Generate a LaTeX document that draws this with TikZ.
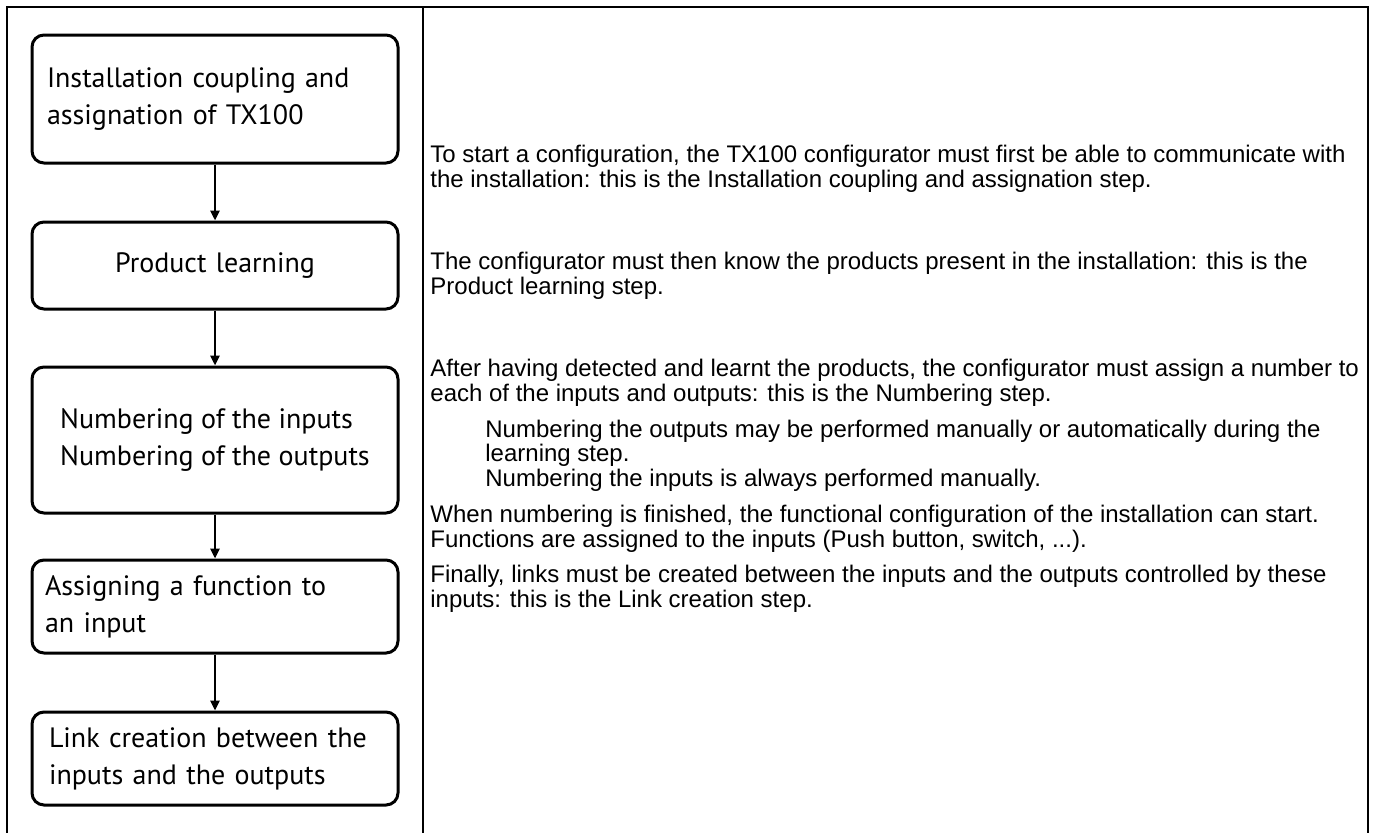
\documentclass[tikz,border=0pt]{standalone}
\usepackage{fontspec}
\setmainfont{Liberation Sans}
\newfontfamily\boxfont{PT Sans}
\usetikzlibrary{arrows.meta}

\begin{document}
\begin{tikzpicture}[x=0.5pt,y=-0.5pt,
  stepbox/.style={draw,line width=1.5pt,rounded corners=6pt,inner ysep=0pt,
    align=left,font=\boxfont\fontsize{14}{18.5}\selectfont},
  flow/.style={line width=1.4pt,-{Triangle[length=5pt,width=4.5pt]}},
  note/.style={anchor=base west,inner sep=0pt,align=left,
    font=\fontsize{12}{10}\selectfont},
  rule/.style={line width=0.8pt}]
  \useasboundingbox (0,0) rectangle (1374,832);
  % table
  \draw[rule] (7,850) -- (7,7) -- (1368,7) -- (1368,850);
  \draw[rule] (423,7) -- (423,850);
  % steps
  \node[stepbox,inner xsep=7.5pt,text width=168pt,minimum height=64pt] (b1) at (215,99)
    {Installation coupling and\\assignation of TX100};
  \node[stepbox,inner xsep=7.5pt,text width=168pt,minimum height=43.5pt,align=center] (b2) at (215,265.5)
    {Product learning};
  \node[stepbox,minimum width=183pt,minimum height=73pt] (b3) at (215,440)
    {Numbering of the inputs\\Numbering of the outputs};
  \node[stepbox,inner xsep=6.5pt,text width=170pt,minimum height=46.5pt] (b4) at (215,606.5)
    {Assigning a function to\\an input};
  \node[stepbox,inner xsep=8.5pt,text width=166pt,minimum height=46.5pt] (b5) at (215,758.5)
    {Link creation between the\\inputs and the outputs};
  \draw[flow] (b1) -- (b2);
  \draw[flow] (b2) -- (b3);
  \draw[flow] (b3) -- (b4);
  \draw[flow] (b4) -- (b5);
  % notes (anchored at the last line)
  \node[note] (n1) at (430,187) {To start a configuration, the TX100 configurator must first be able to communicate with\\the installation: this is the Installation coupling and assignation step.};
  \node[note] (n2) at (430,294) {The configurator must then know the products present in the installation: this is the\\Product learning step.};
  \node[note] (n3) at (430,401) {After having detected and learnt the products, the configurator must assign a number to\\each of the inputs and outputs: this is the Numbering step.};
  \node[note] (n4) at (485,486) {Numbering the outputs may be performed manually or automatically during the\\learning step.\\Numbering the inputs is always performed manually.};
  \node[note] (n5) at (430,547) {When numbering is finished, the functional configuration of the installation can start.\\Functions are assigned to the inputs (Push button, switch, ...).};
  \node[note] (n6) at (430,607) {Finally, links must be created between the inputs and the outputs controlled by these\\inputs: this is the Link creation step.};
\end{tikzpicture}
\end{document}
